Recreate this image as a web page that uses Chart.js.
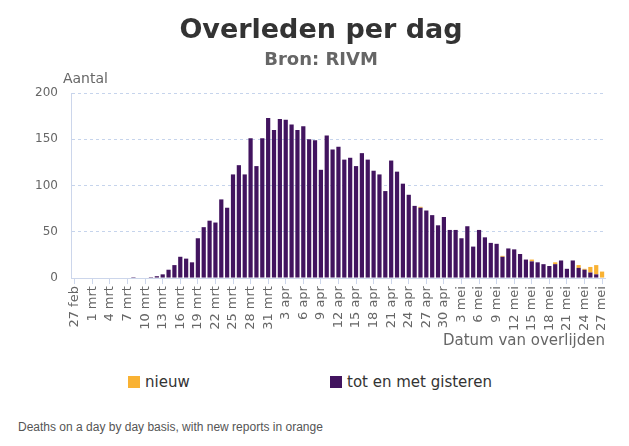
<!DOCTYPE html>
<html>
<head>
<meta charset="utf-8">
<script src="https://cdn.jsdelivr.net/npm/chart.js@4"></script>
<style>
  body { margin: 0; background: #fff; }
  #wrap { position: relative; width: 629px; height: 446px; }
  #chart { position: absolute; left: 0; top: 0; }
  .head { position: absolute; width: 400px; left: 121px; text-align: center; font-family: "DejaVu Sans", sans-serif; font-weight: bold; white-space: nowrap; }
  #title { top: 13px; font-size: 27px; line-height: 32px; color: #333; }
  #subtitle { top: 48px; font-size: 18px; line-height: 22px; color: #666; }
  .legend { position: absolute; font-family: "DejaVu Sans", sans-serif; font-size: 15px; color: #333; line-height: 18px; }
  .legend span { display: inline-block; width: 12px; height: 12px; margin-right: 5px; vertical-align: -1px; }
  #caption { position: absolute; left: 18px; top: 420px; font-family: "Liberation Sans", Arial, sans-serif; font-size: 12px; color: #555; }
</style>
</head>
<body>
<div id="wrap">
  <canvas id="chart" width="629" height="360"></canvas>
  <div class="head" id="title">Overleden per dag</div>
  <div class="head" id="subtitle">Bron: RIVM</div>
  <div class="legend" style="left:128px; top:373px;"><span style="background:#f9b233"></span>nieuw</div>
  <div class="legend" style="left:330px; top:373px;"><span style="background:#42145f"></span>tot en met gisteren</div>
  <div id="caption">Deaths on a day by day basis, with new reports in orange</div>
</div>
<script>
// Dates of death, 27 feb - 27 mei
const dates = [
    '27 feb', '28 feb', '29 feb',
    '1 mrt', '2 mrt', '3 mrt', '4 mrt', '5 mrt', '6 mrt', '7 mrt', '8 mrt', '9 mrt', '10 mrt',
    '11 mrt', '12 mrt', '13 mrt', '14 mrt', '15 mrt', '16 mrt', '17 mrt', '18 mrt', '19 mrt', '20 mrt',
    '21 mrt', '22 mrt', '23 mrt', '24 mrt', '25 mrt', '26 mrt', '27 mrt', '28 mrt', '29 mrt', '30 mrt', '31 mrt',
    '1 apr', '2 apr', '3 apr', '4 apr', '5 apr', '6 apr', '7 apr', '8 apr', '9 apr', '10 apr',
    '11 apr', '12 apr', '13 apr', '14 apr', '15 apr', '16 apr', '17 apr', '18 apr', '19 apr', '20 apr',
    '21 apr', '22 apr', '23 apr', '24 apr', '25 apr', '26 apr', '27 apr', '28 apr', '29 apr', '30 apr',
    '1 mei', '2 mei', '3 mei', '4 mei', '5 mei', '6 mei', '7 mei', '8 mei', '9 mei', '10 mei',
    '11 mei', '12 mei', '13 mei', '14 mei', '15 mei', '16 mei', '17 mei', '18 mei', '19 mei', '20 mei',
    '21 mei', '22 mei', '23 mei', '24 mei', '25 mei', '26 mei', '27 mei'
];

// Deaths reported up to yesterday
const totEnMetGisteren = [
    0, 0, 0,
    0, 0, 0, 0, 0, 0, 0, 1, 0, 0,
    1, 2, 4, 9, 14, 23, 21, 17, 43, 55,
    62, 60, 85, 76, 112, 122, 112, 151, 121, 151, 173,
    160, 172, 171, 166, 160, 164, 150, 149, 117, 154,
    139, 142, 128, 130, 121, 135, 128, 116, 112, 94,
    127, 115, 102, 90, 78, 76, 73, 68, 57, 66,
    52, 52, 43, 56, 34, 52, 44, 38, 37, 23,
    32, 31, 26, 20, 18, 17, 15, 13, 15, 19,
    10, 19, 11, 9, 6, 4, 0
];

// New reports today
const nieuw = [
    0, 0, 0,
    0, 0, 0, 0, 0, 0, 0, 0, 0, 0,
    0, 0, 0, 0, 0, 0, 0, 0, 0, 0,
    0, 0, 0, 0, 0, 0, 0, 0, 0, 0, 0,
    0, 0, 0, 0, 0, 0, 0, 0, 0, 0,
    0, 0, 0, 0, 0, 0, 0, 0, 0, 0,
    0, 0, 0, 0, 0, 1, 0, 0, 0, 0,
    0, 0, 0, 0, 0, 0, 0, 0, 0, 1,
    0, 0, 0, 0, 2, 0, 0, 0, 2, 0,
    0, 0, 3, 1, 6, 10, 7
];

const yTicks = [0, 50, 100, 150, 200];

const purple = '#42145f';
const orange = '#f9b233';
const axisBlue = '#ccd6eb';

// Draw the horizontal "Aantal" label above the y axis
const yLabelPlugin = {
    id: 'yLabel',
    afterDraw(chart) {
        const ctx = chart.ctx;
        const area = chart.chartArea;
        ctx.save();
        ctx.font = '14px "DejaVu Sans", sans-serif';
        ctx.fillStyle = '#666';
        ctx.textAlign = 'left';
        ctx.textBaseline = 'middle';
        ctx.fillText('Aantal', area.left - 9, area.top - 14);
        ctx.restore();
    }
};

new Chart(document.getElementById('chart'), {
    type: 'bar',
    data: {
        labels: dates,
        datasets: [
            {
                label: 'tot en met gisteren',
                data: totEnMetGisteren,
                backgroundColor: purple,
                barPercentage: 0.72,
                categoryPercentage: 1.0
            },
            {
                label: 'nieuw',
                data: nieuw,
                backgroundColor: orange,
                barPercentage: 0.72,
                categoryPercentage: 1.0
            }
        ]
    },
    options: {
        responsive: false,
        animation: false,
        layout: {
            padding: { left: 21, right: 24, top: 93, bottom: 10 }
        },
        plugins: {
            legend: { display: false },
            tooltip: { enabled: false }
        },
        scales: {
            x: {
                stacked: true,
                offset: true,
                grid: {
                    drawOnChartArea: false,
                    offset: false,
                    color: axisBlue,
                    tickLength: 6
                },
                border: { color: axisBlue },
                ticks: {
                    autoSkip: false,
                    minRotation: 90,
                    maxRotation: 90,
                    color: '#666',
                    padding: 2,
                    font: { family: 'DejaVu Sans', size: 13 },
                    callback: function(value, index) {
                        return index % 3 === 0 ? this.getLabelForValue(value) : null;
                    }
                },
                title: {
                    display: true,
                    text: 'Datum van overlijden',
                    align: 'end',
                    color: '#666',
                    font: { family: 'DejaVu Sans', size: 15 },
                    padding: { top: -1, bottom: 0 }
                }
            },
            y: {
                stacked: true,
                min: yTicks[0],
                max: yTicks[yTicks.length - 1],
                afterBuildTicks: function(axis) {
                    axis.ticks = yTicks.map(v => ({ value: v }));
                },
                grid: {
                    color: '#c6d4ec',
                    drawTicks: false
                },
                border: { color: axisBlue, dash: [3, 3] },
                ticks: {
                    color: '#666',
                    padding: 14,
                    font: { family: 'DejaVu Sans', size: 12 }
                }
            }
        }
    },
    plugins: [yLabelPlugin]
});
</script>
</body>
</html>
